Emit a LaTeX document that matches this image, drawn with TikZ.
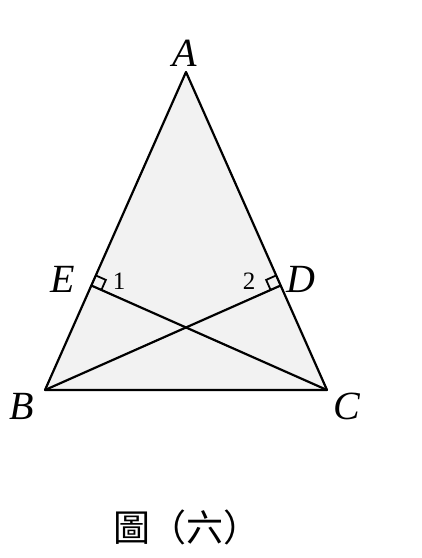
\documentclass[tikz,border=0pt]{standalone}
\usepackage{fontspec}
\setmainfont{Liberation Serif}
\newfontfamily\cjk{Noto Sans CJK TC}
\usetikzlibrary{calc}
\tikzset{
  edge/.style={line width=2.2pt,line join=round},
  ptlabel/.style={font=\fontsize{40}{40}\selectfont\itshape,inner sep=0pt},
  anglabel/.style={font=\fontsize{25}{25}\selectfont,inner sep=0pt},
  rightmark/.style={line width=1.8pt}
}
\begin{document}
\begin{tikzpicture}[x=1pt,y=-1pt]
    \useasboundingbox (0,0) rectangle (422,558);

    \coordinate (A) at (186,72);
    \coordinate (B) at (45,390);
    \coordinate (C) at (327,390);
    \coordinate (E) at ($(A)!(C)!(B)$);
    \coordinate (D) at ($(A)!(B)!(C)$);

    \fill[black!5] (A) -- (B) -- (C) -- cycle;
    \draw[edge] (A) -- (B) -- (C) -- cycle;
    \draw[edge] (B) -- (D);
    \draw[edge] (C) -- (E);

    % right angle marks
    \coordinate (ea) at ($(E)!11pt!(A)$);
    \coordinate (ec) at ($(E)!11pt!(C)$);
    \coordinate (da) at ($(D)!11pt!(A)$);
    \coordinate (db) at ($(D)!11pt!(B)$);
    \draw[rightmark] (ea) -- ($(ea)+(ec)-(E)$) -- (ec);
    \draw[rightmark] (da) -- ($(da)+(db)-(D)$) -- (db);

    \node[ptlabel] (lA) at (185,53) {A};
    \node[ptlabel] (lB) at (22,406) {B};
    \node[ptlabel] (lC) at (347,406) {C};
    \node[ptlabel] (lE) at (63,279) {E};
    \node[ptlabel] (lD) at (301,279) {D};
    \node[anglabel] (l1) at (119,281) {1};
    \node[anglabel] (l2) at (249,281) {2};

    \node[font=\cjk\fontsize{37}{37}\selectfont,inner sep=0pt] (cap) at (187,527) {圖（六）};
\end{tikzpicture}
\end{document}
